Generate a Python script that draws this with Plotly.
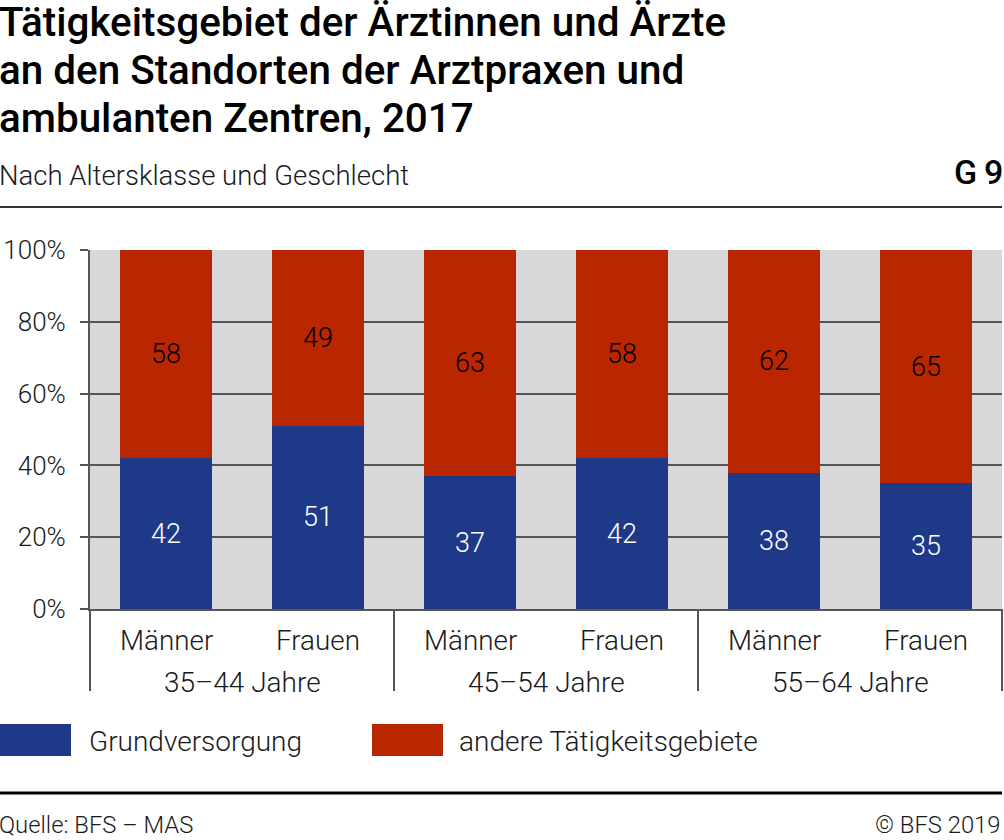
import plotly.graph_objects as go

group_labels = ["35–44 Jahre", "45–54 Jahre", "55–64 Jahre"]
groups = ["35–44 Jahre", "35–44 Jahre", "45–54 Jahre", "45–54 Jahre", "55–64 Jahre", "55–64 Jahre"]
sexes = ["Männer", "Frauen", "Männer", "Frauen", "Männer", "Frauen"]
grund = [42, 51, 37, 42, 38, 35]
andere = [58, 49, 63, 58, 62, 65]
series_names = ["Grundversorgung", "andere Tätigkeitsgebiete"]
y_ticks = [0, 20, 40, 60, 80, 100]
y_ticklabels = ["0%", "20%", "40%", "60%", "80%", "100%"]
title_lines = ["Tätigkeitsgebiet der Ärztinnen und Ärzte",
               "an den Standorten der Arztpraxen und",
               "ambulanten Zentren, 2017"]
subtitle = "Nach Altersklasse und Geschlecht"
chart_no = "G\u20099"
source = "Quelle: BFS – MAS"
copyright_txt = "© BFS 2019"

BLUE = "#1e3987"
RED = "#b92600"
FONT = "Roboto"
TXT = "#1a1a1a"
L, R, T, B = 90, 1002, 250, 609
W, H = R - L, B - T
PAD = 3  # annotation inner padding


def xp(px):
    return (px - L) / W


def yp(py):
    return (B - py) / H


def light(size, color=TXT):
    return dict(size=size, family=FONT, color=color, weight=300)


fig = go.Figure()
fig.add_trace(go.Bar(x=[groups, sexes], y=grund, name=series_names[0], marker_color=BLUE,
                     marker_line_width=0, text=grund, texttemplate="%{text}",
                     textposition="inside", insidetextanchor="middle",
                     textfont=light(27, "white"), showlegend=False))
fig.add_trace(go.Bar(x=[groups, sexes], y=andere, name=series_names[1], marker_color=RED,
                     marker_line_width=0, text=andere, texttemplate="%{text}",
                     textposition="inside", insidetextanchor="middle",
                     textfont=light(27, "black"), showlegend=False))

fig.update_layout(
    barmode="stack", bargap=0.4,
    width=1004, height=840,
    margin=dict(l=L, r=1004 - R, t=T, b=840 - B),
    paper_bgcolor="white", plot_bgcolor="#d8d8da",
    font=light(26),
    uniformtext=dict(mode="show", minsize=10),
)
fig.update_yaxes(range=[0, 100], tickvals=y_ticks, ticktext=y_ticklabels,
                 showgrid=True, gridcolor="#555", gridwidth=2,
                 showline=True, linecolor="#555", linewidth=2,
                 ticks="outside", ticklen=8, tickcolor="#555", tickwidth=2,
                 ticklabelstandoff=9,
                 tickfont=light(26), zeroline=False)
fig.update_xaxes(showline=True, linecolor="#555", linewidth=2,
                 showticklabels=False, ticks="")

# category labels and dividers
for i, s in enumerate(sexes):
    fig.add_annotation(xref="paper", yref="paper", x=(i + 0.5) / 6, y=yp(640),
                       xanchor="center", yanchor="middle", text=s, showarrow=False,
                       font=light(27.8))
for j, g in enumerate(group_labels):
    fig.add_annotation(xref="paper", yref="paper", x=(j + 0.5) / 3, y=yp(682),
                       xanchor="center", yanchor="middle", text=g, showarrow=False,
                       font=light(28))
for k in range(4):
    fig.add_shape(type="line", xref="paper", yref="paper", x0=k / 3, x1=k / 3,
                  y0=0, y1=yp(691), line=dict(color="#555", width=2))

# title
for n, line in enumerate(title_lines):
    fig.add_annotation(xref="paper", yref="paper", x=xp(-PAD), y=yp(35 + 48.5 * n - 13),
                       xanchor="left", yanchor="middle", text=line, showarrow=False,
                       font=dict(size=40.4, family=FONT, color="black", weight=500))
fig.add_annotation(xref="paper", yref="paper", x=xp(-PAD), y=yp(175),
                   xanchor="left", yanchor="middle", text=subtitle, showarrow=False,
                   font=light(27.5))
fig.add_annotation(xref="paper", yref="paper", x=xp(1002 + PAD), y=yp(172),
                   xanchor="right", yanchor="middle", text=chart_no, showarrow=False,
                   font=dict(size=34, family=FONT, color="black", weight=500))
fig.add_shape(type="line", xref="paper", yref="paper", x0=xp(0), x1=xp(1002),
              y0=yp(207), y1=yp(207), line=dict(color="#333", width=2))
fig.add_shape(type="line", xref="paper", yref="paper", x0=xp(0), x1=xp(1002),
              y0=yp(793), y1=yp(793), line=dict(color="black", width=3))

# legend entries
for nm, col, x0px, txpx in [(series_names[0], BLUE, 0, 90), (series_names[1], RED, 372, 460)]:
    fig.add_shape(type="rect", xref="paper", yref="paper",
                  x0=xp(x0px), x1=xp(x0px + 71), y0=yp(756), y1=yp(724),
                  fillcolor=col, line_width=0)
    fig.add_annotation(xref="paper", yref="paper", x=xp(txpx - PAD), y=yp(741),
                       xanchor="left", yanchor="middle", text=nm, showarrow=False,
                       font=light(28))

# footer
fig.add_annotation(xref="paper", yref="paper", x=xp(-PAD), y=yp(825),
                   xanchor="left", yanchor="middle", text=source, showarrow=False,
                   font=light(23.8))
fig.add_annotation(xref="paper", yref="paper", x=xp(1000 + PAD), y=yp(825),
                   xanchor="right", yanchor="middle", text=copyright_txt, showarrow=False,
                   font=light(23.8))

fig.write_html("out.html", config={"displayModeBar": False},
               post_script="document.body.style.margin='0';")
